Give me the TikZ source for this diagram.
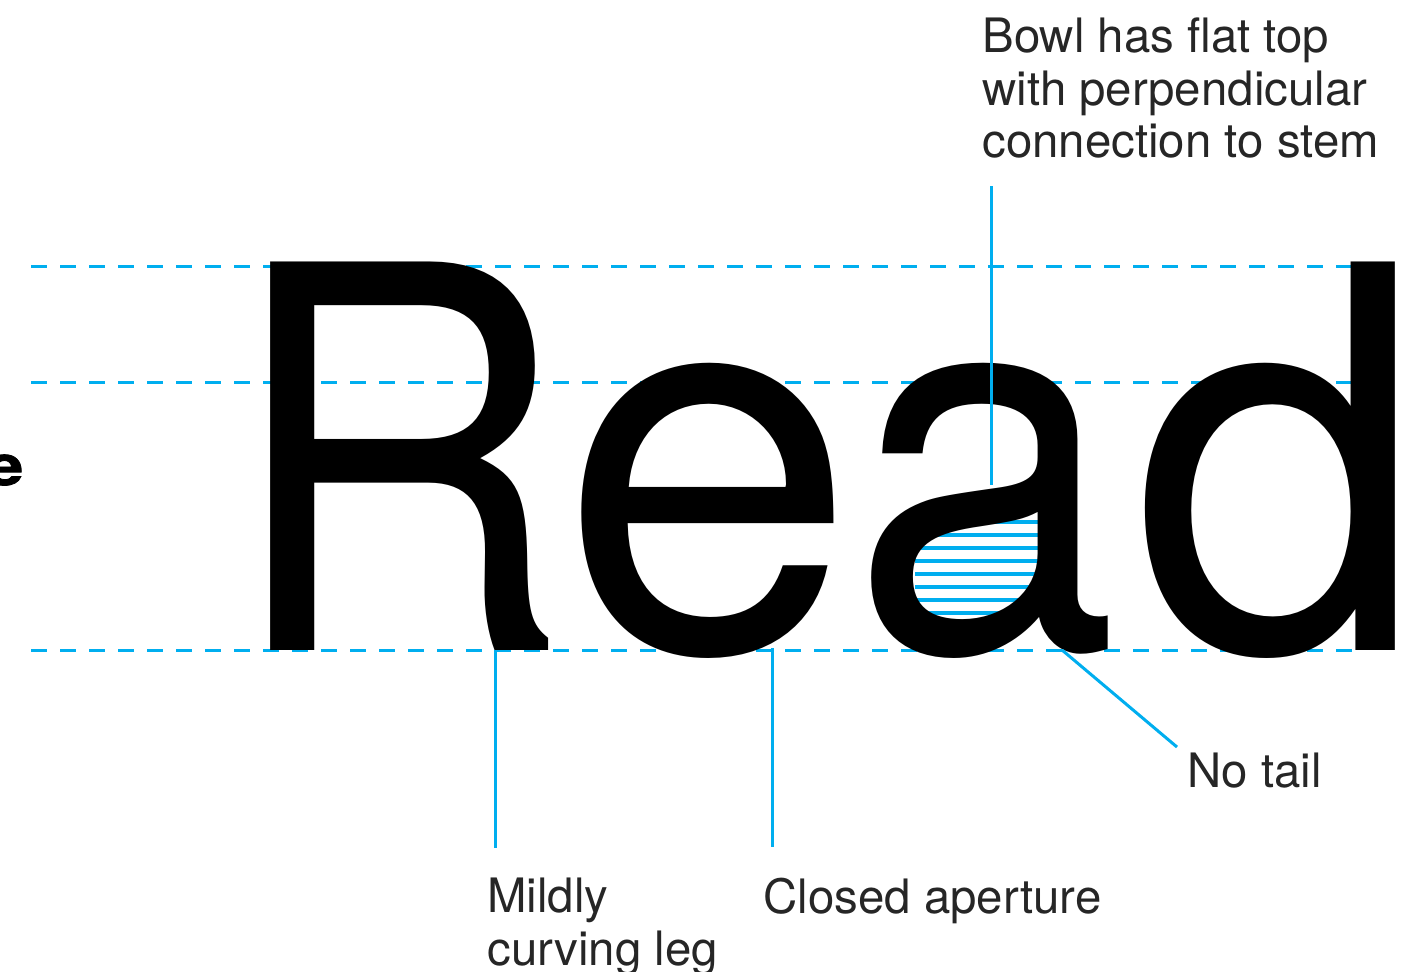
\documentclass[tikz,border=0pt]{standalone}
\usepackage{fontspec}
\setmainfont{TeX Gyre Heros}
\usetikzlibrary{positioning,calc}
\definecolor{guide}{HTML}{00AEEF}
\definecolor{ink}{HTML}{262626}
\tikzset{
  guideln/.style={draw=guide, line width=1.5pt, dash pattern=on 8pt off 6.5pt},
  lead/.style   ={draw=guide, line width=1.5pt},
  hatch/.style  ={draw=guide, line width=1.6pt},
  note/.style   ={font=\fontsize{23.7}{26.3}\selectfont, text=ink, inner sep=0pt, align=left},
  big/.style    ={font=\fontsize{266.5}{266.5}\selectfont, inner sep=0pt},
}
\begin{document}
\begin{tikzpicture}[x=0.5pt, y=-0.5pt]
\useasboundingbox (0,0) rectangle (1401,972);
\clip (0,0) rectangle (1401,972);
% cap height, x-height, baseline
\foreach \gy in {267,383,650}
  \draw[guideln] (31,\gy) -- (1360,\gy);
% hatching in the bowl of the a
\foreach \hy in {522,535,...,613}
  \draw[hatch] (915,\hy) -- (1050,\hy);
\node[big, anchor=base west] (word) at (226,650)
  {{\addfontfeature{FakeStretch=0.89}R}\kern-4.25pt e\kern-2.65pt{\addfontfeature{FakeStretch=0.9}a}\kern6.5pt d};
\node[font=\fontsize{27.7}{30}\selectfont\bfseries\addfontfeature{FakeStretch=1.2,FakeBold=1.5},
      inner sep=0pt, anchor=base west] (cut) at (-14,485) {e};
% labels
\node[note, anchor=base west] (bowl) at (982,158) {Bowl has flat top\\with perpendicular\\connection to stem};
\node[note, anchor=base west] (mild) at (487,965) {Mildly\\curving leg};
\node[note, anchor=base west] (aper) at (763,913) {Closed aperture};
\node[note, anchor=base west] (tail) at (1187,787) {No tail};
% leader lines
\coordinate (bowltop) at (991,485);
\coordinate (legfoot) at (495,650);
\coordinate (eterm) at (772,648);
\coordinate (stemfoot) at (1062,650);
\draw[lead, shorten >=13.5pt] (bowltop) -- (bowltop |- bowl.south);
\draw[lead, shorten >=14.5pt] (legfoot) -- (legfoot |- mild.north);
\draw[lead, shorten >=15pt] (eterm) -- (eterm |- aper.north);
\draw[lead] (stemfoot) -- ($(tail.north west)+(-10,-5)$);
\end{tikzpicture}
\end{document}
